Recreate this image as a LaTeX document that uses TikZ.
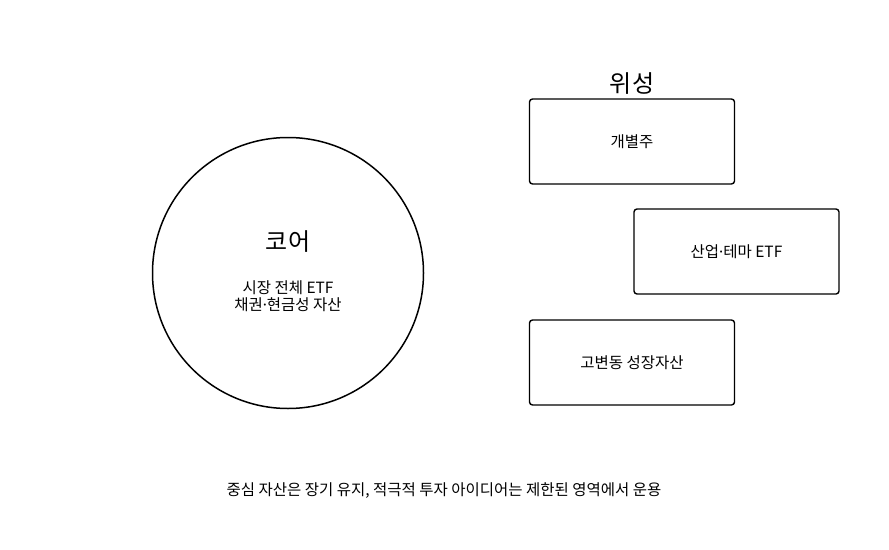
\documentclass[tikz,border=0pt]{standalone}
\usepackage{fontspec}
\setmainfont{Noto Sans CJK KR}
\newfontfamily\latinfont{Noto Sans}
\newcommand{\mdot}{{\latinfont ·}}
\begin{document}
\begin{tikzpicture}[x=1pt,y=-1pt,
  box/.style={draw,line width=1.4pt,rounded corners=3pt,minimum width=205pt,minimum height=85pt,inner sep=0pt},
  small/.style={font=\fontsize{15.5}{17}\selectfont,align=center},
  big/.style={font=\fontsize{24}{28}\selectfont}]
\useasboundingbox (0,0) rectangle (889,549);
\node[draw,circle,line width=1.5pt,minimum size=271pt,inner sep=0pt] (core) at (288,273) {};
\node[big] (coret) at (288,242) {코어};
\node[small] (corel) at (288,296) {시장 전체 ETF\\채권\mdot 현금성 자산};
\node[big] (sat) at (632,84) {위성};
\node[box,small] (b1) at (632,141.5) {개별주};
\node[box,small] (b2) at (736.5,251.5) {산업\mdot 테마 ETF};
\node[box,small] (b3) at (632,362.5) {고변동 성장자산};
\node[small] (cap) at (444,491) {중심 자산은 장기 유지, 적극적 투자 아이디어는 제한된 영역에서 운용};
\end{tikzpicture}
\end{document}
